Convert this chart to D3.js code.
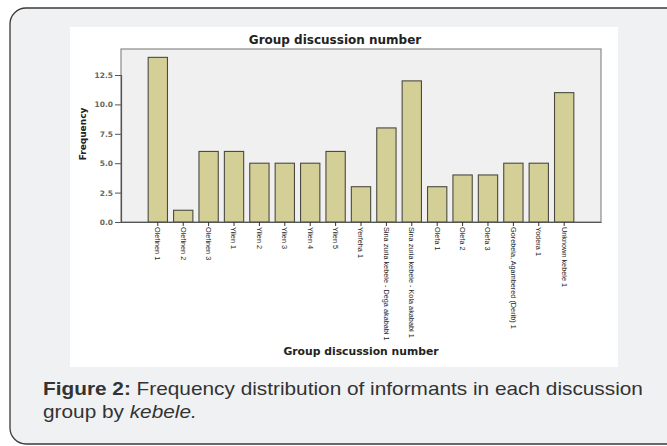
<!DOCTYPE html>
<html><head><meta charset="utf-8">
<script src="https://cdn.jsdelivr.net/npm/d3@7/dist/d3.min.js"></script>
<style>html,body{margin:0;padding:0;background:#fff;}svg{display:block;}</style>
</head><body>
<script>
const categories = ["Olefinen 1","Olefinen 2","Olefinen 3","Yilen 1","Yilen 2","Yilen 3","Yilen 4","Yilen 5","Yerfeha 1","Sina zuria kebele - Dega akababi 1","Sina zuria kebele - Kola akababi 1","Olefa 1","Olefa 2","Olefa 3","Gorebela, Agambered (Derib) 1","Yodera 1","Unknown kebele 1"];
const frequencies = [14,1,6,6,5,5,5,6,3,8,12,3,4,4,5,5,11];
const yTicks = [0,2.5,5,7.5,10,12.5];
const chartTitle = "Group discussion number";
const xTitle = "Group discussion number";
const yTitle = "Frequency";

const W = 667, H = 446;
const svg = d3.select("body").append("svg").attr("width", W).attr("height", H);

// card
svg.append("rect").attr("x", 10).attr("y", 8).attr("width", 700).attr("height", 436)
  .attr("rx", 16).attr("fill", "#f0f1f3").attr("stroke", "#3a3a3a").attr("stroke-width", 1.3);
// white chart image area
svg.append("rect").attr("x", 70).attr("y", 27).attr("width", 548).attr("height", 340).attr("fill", "#fff");

const plot = {l: 121, r: 601, t: 49, b: 222};
svg.append("rect").attr("x", plot.l).attr("y", plot.t).attr("width", plot.r - plot.l).attr("height", plot.b - plot.t)
  .attr("fill", "#f0f0f0").attr("stroke", "#8a8a8a").attr("stroke-width", 1.2);

const x = d3.scaleBand().domain(categories).range([plot.l, plot.r]).paddingInner(0.24).paddingOuter(1.07);
const y = d3.scaleLinear().domain([0, 12.5]).range([plot.b, 75]);

svg.append("g").selectAll("rect").data(frequencies).join("rect")
  .attr("x", (d,i) => x(categories[i]))
  .attr("y", d => y(d))
  .attr("width", x.bandwidth())
  .attr("height", d => y(0) - y(d))
  .attr("fill", "#d4cf97").attr("stroke", "#4a4a40").attr("stroke-width", 1.1);

// y axis
const yAxis = svg.append("g").attr("transform", `translate(${plot.l},0)`)
  .call(d3.axisLeft(y).tickValues(yTicks).tickFormat(d3.format(".1f")).tickSize(6).tickPadding(2));
yAxis.select(".domain").attr("stroke", "#555").attr("stroke-width", 1.2);
yAxis.selectAll(".tick line").attr("stroke", "#555");
yAxis.selectAll("text").attr("font-family", "DejaVu Sans").attr("font-size", 7.5).attr("font-weight", "bold").attr("fill", "#666");

// x axis
const xAxis = svg.append("g").attr("transform", `translate(0,${plot.b})`)
  .call(d3.axisBottom(x).tickSize(4).tickSizeOuter(0));
xAxis.select(".domain").attr("stroke", "#555").attr("stroke-width", 1.2);
xAxis.selectAll(".tick line").attr("stroke", "#333");
xAxis.selectAll("text")
  .attr("font-family", "Liberation Sans").attr("font-size", 7.3).attr("fill", "#222")
  .attr("text-anchor", "start").attr("dy", "0.35em")
  .attr("transform", "translate(0,5) rotate(90)").attr("x", 0).attr("y", 0);

// titles
svg.append("text").attr("x", 335).attr("y", 44).attr("text-anchor", "middle")
  .attr("font-family", "DejaVu Sans").attr("font-weight", "bold").attr("font-size", 12).attr("fill", "#222").text(chartTitle);
svg.append("text").attr("x", 361).attr("y", 355).attr("text-anchor", "middle")
  .attr("font-family", "DejaVu Sans").attr("font-weight", "bold").attr("font-size", 10.8).attr("fill", "#222").text(xTitle);
svg.append("text").attr("transform", "translate(86,134) rotate(-90)").attr("text-anchor", "middle")
  .attr("font-family", "DejaVu Sans").attr("font-weight", "bold").attr("font-size", 9).attr("fill", "#222").text(yTitle);

// caption (horizontally condensed to mimic the narrow face)
const capG = svg.append("g");
const cap1 = capG.append("text").attr("x", 0).attr("y", 395).attr("font-family", "Liberation Sans").attr("font-size", 17.5).attr("fill", "#333");
cap1.append("tspan").attr("font-weight", "bold").text("Figure 2:");
cap1.append("tspan").text(" Frequency distribution of informants in each discussion");
const cap2 = capG.append("text").attr("x", 0).attr("y", 418).attr("font-family", "Liberation Sans").attr("font-size", 17.5).attr("fill", "#333");
cap2.append("tspan").text("group by ");
cap2.append("tspan").attr("font-style", "italic").text("kebele.");
const w1 = cap1.node().getComputedTextLength();
const sx = w1 > 0 ? 600 / w1 : 1;
capG.attr("transform", `translate(43,0) scale(${sx},1)`);
</script>
</body></html>
